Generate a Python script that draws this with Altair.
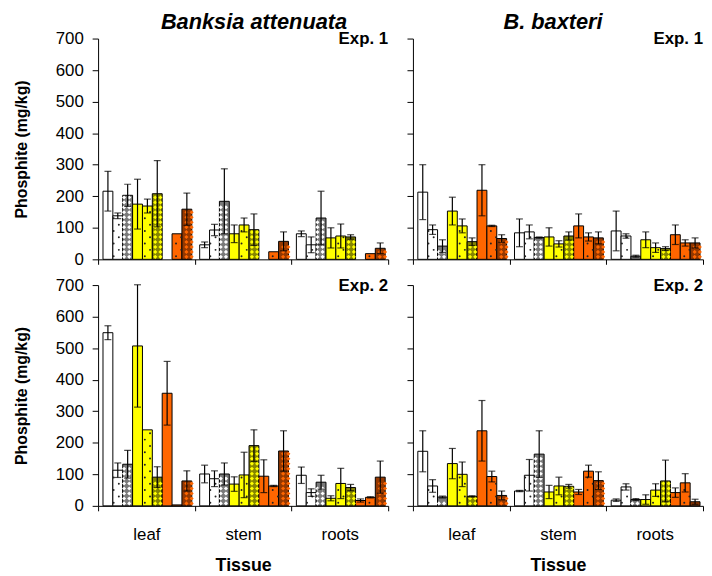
import altair as alt
import pandas as pd

FONT = "Liberation Sans"

tissues = ["leaf", "stem", "roots"]
treatments = ["white", "white dotted", "white hatched",
              "yellow", "yellow dotted", "yellow hatched",
              "orange", "orange dotted", "orange hatched"]
species = ["Banksia attenuata", "B. baxteri"]
experiments = ["Exp. 1", "Exp. 2"]
y_ticks = [0, 100, 200, 300, 400, 500, 600, 700]

# --- B. attenuata, Exp. 1 (None = no bar / no error bar)
att1_leaf = [216, 138, 203, 175, 169, 208, None, 81, 159]
att1_leaf_se = [63, 9, 35, 79, 22, 105, None, None, 51]
att1_stem = [46, 93, 184, 81, 109, 94, None, 24, 57]
att1_stem_se = [9, 18, 103, 28, 22, 50, None, None, 30]
att1_roots = [81, 46, 131, 68, 74, 71, None, 18, 35]
att1_roots_se = [9, 25, 85, 32, 38, 7, None, None, 17]

# --- B. baxteri, Exp. 1
bax1_leaf = [213, 94, 42, 153, 106, 56, 219, 106, 66]
bax1_leaf_se = [87, 15, 20, 44, 22, 12, 81, 2, 12]
bax1_stem = [84, 87, 69, 71, 49, 74, 106, 71, 68]
bax1_stem_se = [44, 22, 2, 29, 10, 13, 38, 13, 19]
bax1_roots = [90, 74, 10, 62, 37, 34, 78, 52, 52]
bax1_roots_se = [63, 7, 3, 25, 15, 6, 31, 10, 16]

# --- B. attenuata, Exp. 2
att2_leaf = [549, 113, 132, 507, 241, 91, 357, 3, 79]
att2_leaf_se = [22, 23, 44, 194, None, 33, 101, None, 32]
att2_stem = [101, 86, 101, 69, 98, 191, 94, 63, 174]
att2_stem_se = [28, 25, 35, 23, 72, 50, 52, 2, 64]
att2_roots = [97, 42, 75, 24, 71, 58, 17, 27, 91]
att2_roots_se = [26, 12, 22, 8, 48, 10, 5, 2, 51]

# --- B. baxteri, Exp. 2
bax2_leaf = [173, 63, 28, 134, 100, 30, 238, 93, 33]
bax2_leaf_se = [65, 20, 3, 48, 39, 2, 96, 17, 14]
bax2_stem = [47, 97, 164, 44, 63, 62, 44, 110, 80]
bax2_stem_se = [2, 50, 74, 21, 28, 6, 8, 19, 28]
bax2_roots = [18, 60, 20, 20, 50, 79, 42, 73, 13]
bax2_roots_se = [4, 10, 3, 15, 20, 66, 15, 29, 8]

panels = {
    "att1": [(att1_leaf, att1_leaf_se), (att1_stem, att1_stem_se), (att1_roots, att1_roots_se)],
    "bax1": [(bax1_leaf, bax1_leaf_se), (bax1_stem, bax1_stem_se), (bax1_roots, bax1_roots_se)],
    "att2": [(att2_leaf, att2_leaf_se), (att2_stem, att2_stem_se), (att2_roots, att2_roots_se)],
    "bax2": [(bax2_leaf, bax2_leaf_se), (bax2_stem, bax2_stem_se), (bax2_roots, bax2_roots_se)],
}

base_fill = {"white": "#ffffff", "yellow": "#ffff00", "orange": "#ff6600"}
hatch_fill = {"white": "#7a7a7a", "yellow": "#858500", "orange": "#943800"}

bar_rows, err_rows, pat_rows = [], [], []
DOT_STEP = 20.0
HATCH_STEP = 15.7
for pname, groups in panels.items():
    for tissue, (vals, ses) in zip(tissues, groups):
        for ti, (tr, v, se) in enumerate(zip(treatments, vals, ses)):
            if v is None:
                continue
            colour = tr.split()[0]
            hatched = tr.endswith("hatched")
            bar_rows.append(dict(panel=pname, tissue=tissue, treatment=tr, mean=v,
                                 fill=hatch_fill[colour] if hatched else base_fill[colour]))
            if se is not None:
                err_rows.append(dict(panel=pname, tissue=tissue, treatment=tr,
                                     lo=max(v - se, 0), hi=v + se))
            if tr.endswith("dotted"):
                k = 0
                while (k + 0.7) * DOT_STEP <= v:
                    pat_rows.append(dict(panel=pname, tissue=tissue, sub=2 * ti + (k % 2),
                                         py=(k + 0.5) * DOT_STEP, kind="dot", col="#222222"))
                    k += 1
            if hatched:
                k = 0
                while (k + 1) * HATCH_STEP <= v + 2:
                    for c in (0, 1):
                        pat_rows.append(dict(panel=pname, tissue=tissue, sub=2 * ti + c,
                                             py=(k + 0.5) * HATCH_STEP, kind="diamond",
                                             col=base_fill[colour]))
                    k += 1

bars_df = pd.DataFrame(bar_rows)
err_df = pd.DataFrame(err_rows)
pat_df = pd.DataFrame(pat_rows)

W, H = 293, 223


def panel(pname, sp_title, exp_label, show_ylabels, show_xlabels, title_dx):
    x_axis = alt.Axis(
        title="Tissue" if show_xlabels else None,
        labels=show_xlabels, labelAngle=0, labelFont=FONT, labelFontSize=17,
        labelColor="black", labelPadding=16, tickBand="extent", tickSize=5,
        tickColor="black", domainColor="black", titleFont=FONT, titleFontSize=18,
        titleFontWeight="bold", titleColor="black", titlePadding=14,
    )
    y_axis = alt.Axis(
        title="Phosphite (mg/kg)" if show_ylabels else None,
        labels=show_ylabels, values=y_ticks, tickCount=8, labelOverlap=False,
        labelFont=FONT, labelFontSize=17, labelColor="black", labelPadding=9,
        tickSize=6, tickColor="black", domainColor="black", grid=False,
        titleFont=FONT, titleFontSize=16, titleFontWeight="bold",
        titleColor="black", titlePadding=26,
    )
    yscale = alt.Scale(domain=[0, 700], nice=False, zero=True)
    xscale = alt.Scale(domain=tissues, paddingInner=0, paddingOuter=0)
    x = alt.X("tissue:N", sort=tissues, scale=xscale, axis=x_axis)

    def yy(field):
        return alt.Y(field, scale=yscale, axis=y_axis)

    xo = alt.XOffset("treatment:N", sort=treatments,
                     scale=alt.Scale(domain=treatments, paddingInner=0, paddingOuter=0.4, align=0.62))

    b = alt.Chart(bars_df[bars_df.panel == pname]).mark_bar(
        stroke="black", strokeWidth=1
    ).encode(x=x, xOffset=xo, y=yy("mean:Q"), fill=alt.Fill("fill:N", scale=None))

    pdf = pat_df[pat_df.panel == pname]
    xo_sub = alt.XOffset("sub:O", scale=alt.Scale(domain=list(range(18)), paddingInner=0,
                                                   paddingOuter=0.8, align=0.62))
    diamonds = alt.Chart(pdf[pdf.kind == "diamond"]).mark_point(
        shape="diamond", filled=True, size=17, opacity=1, strokeWidth=0
    ).encode(x=x, xOffset=xo_sub, y=yy("py:Q"), color=alt.Color("col:N", scale=None))
    dots = alt.Chart(pdf[pdf.kind == "dot"]).mark_circle(
        size=4, opacity=1
    ).encode(x=x, xOffset=xo_sub, y=yy("py:Q"), color=alt.Color("col:N", scale=None))

    edf = err_df[err_df.panel == pname]
    rule = alt.Chart(edf).mark_rule(color="black", strokeWidth=1.2).encode(
        x=x, xOffset=xo, y=yy("lo:Q"), y2="hi:Q")
    cap_hi = alt.Chart(edf).mark_tick(color="black", thickness=1.2, size=7).encode(
        x=x, xOffset=xo, y=yy("hi:Q"))
    cap_lo = alt.Chart(edf).mark_tick(color="black", thickness=1.2, size=7).encode(
        x=x, xOffset=xo, y=yy("lo:Q"))

    exp_txt = alt.Chart(pd.DataFrame({"t": [exp_label]})).mark_text(
        align="right", baseline="alphabetic", font=FONT, fontSize=17, fontWeight="bold",
        color="black"
    ).encode(x=alt.value(W), y=alt.value(6), text="t:N")

    layers = [b, diamonds, dots, rule, cap_hi, cap_lo, exp_txt]
    if sp_title:
        sp = alt.Chart(pd.DataFrame({"t": [sp_title]})).mark_text(
            align="center", baseline="alphabetic", font=FONT, fontSize=22,
            fontWeight="bold", fontStyle="italic", color="black"
        ).encode(x=alt.value(W / 2 + title_dx), y=alt.value(-10), text="t:N")
        layers.append(sp)

    return alt.layer(*layers).resolve_scale(xOffset="independent").properties(width=W, height=H)


top = alt.hconcat(
    panel("att1", species[0], experiments[0], True, False, 11),
    panel("bax1", species[1], experiments[0], False, False, -5),
    spacing=17,
)
bottom = alt.hconcat(
    panel("att2", None, experiments[1], True, True, 0),
    panel("bax2", None, experiments[1], False, True, 0),
    spacing=17,
)
chart = alt.vconcat(top, bottom, spacing=9).properties(
    padding={"left": 5, "top": 0, "right": 0, "bottom": 0},
    background="white",
).configure_view(stroke=None)

chart.save("out.html", embed_options={"renderer": "svg", "actions": False})
